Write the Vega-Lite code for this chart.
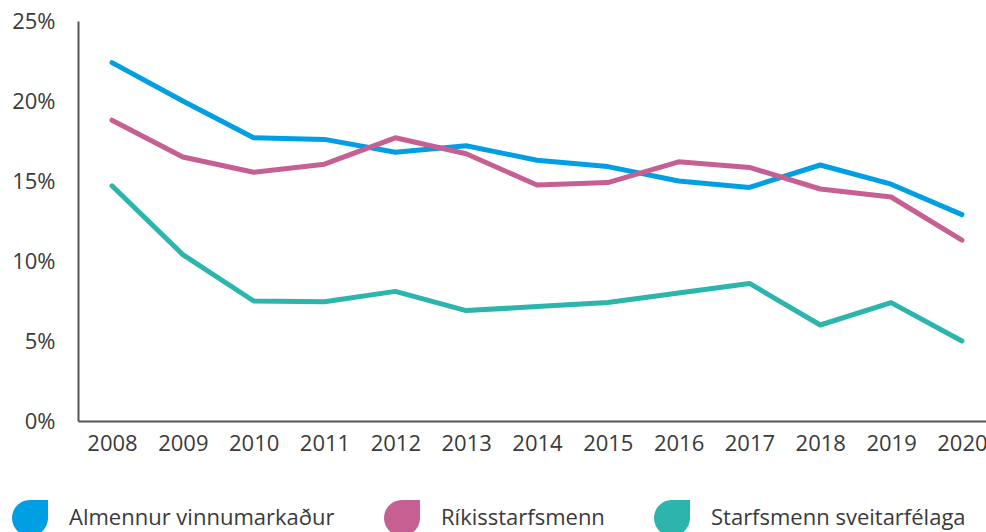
{
  "$schema": "https://vega.github.io/schema/vega-lite/v6.json",
  "autosize": {"type": "none"},
  "width": 908,
  "height": 400,
  "padding": {"left": 78, "top": 21, "right": 0, "bottom": 111},
  "background": "white",
  "config": {
    "view": {"stroke": null},
    "font": "Open Sans",
    "axis": {"labelFont": "Open Sans", "labelColor": "#3a3a3a", "labelFontSize": 22, "domainColor": "#555555", "domainWidth": 2, "ticks": false, "grid": false, "title": null},
    "legend": {"labelFont": "Open Sans", "labelFontSize": 22, "labelColor": "#3a3a3a"}
  },
  "data": {
    "values": [
      {"year": 2008, "group": "Almennur vinnumarkaður", "value": 22.4},
      {"year": 2009, "group": "Almennur vinnumarkaður", "value": 20.0},
      {"year": 2010, "group": "Almennur vinnumarkaður", "value": 17.7},
      {"year": 2011, "group": "Almennur vinnumarkaður", "value": 17.6},
      {"year": 2012, "group": "Almennur vinnumarkaður", "value": 16.8},
      {"year": 2013, "group": "Almennur vinnumarkaður", "value": 17.2},
      {"year": 2014, "group": "Almennur vinnumarkaður", "value": 16.3},
      {"year": 2015, "group": "Almennur vinnumarkaður", "value": 15.9},
      {"year": 2016, "group": "Almennur vinnumarkaður", "value": 15.0},
      {"year": 2017, "group": "Almennur vinnumarkaður", "value": 14.6},
      {"year": 2018, "group": "Almennur vinnumarkaður", "value": 16.0},
      {"year": 2019, "group": "Almennur vinnumarkaður", "value": 14.8},
      {"year": 2020, "group": "Almennur vinnumarkaður", "value": 12.9},
      {"year": 2008, "group": "Ríkisstarfsmenn", "value": 18.8},
      {"year": 2009, "group": "Ríkisstarfsmenn", "value": 16.5},
      {"year": 2010, "group": "Ríkisstarfsmenn", "value": 15.55},
      {"year": 2011, "group": "Ríkisstarfsmenn", "value": 16.05},
      {"year": 2012, "group": "Ríkisstarfsmenn", "value": 17.7},
      {"year": 2013, "group": "Ríkisstarfsmenn", "value": 16.7},
      {"year": 2014, "group": "Ríkisstarfsmenn", "value": 14.75},
      {"year": 2015, "group": "Ríkisstarfsmenn", "value": 14.9},
      {"year": 2016, "group": "Ríkisstarfsmenn", "value": 16.2},
      {"year": 2017, "group": "Ríkisstarfsmenn", "value": 15.85},
      {"year": 2018, "group": "Ríkisstarfsmenn", "value": 14.5},
      {"year": 2019, "group": "Ríkisstarfsmenn", "value": 14.0},
      {"year": 2020, "group": "Ríkisstarfsmenn", "value": 11.3},
      {"year": 2008, "group": "Starfsmenn sveitarfélaga", "value": 14.7},
      {"year": 2009, "group": "Starfsmenn sveitarfélaga", "value": 10.4},
      {"year": 2010, "group": "Starfsmenn sveitarfélaga", "value": 7.5},
      {"year": 2011, "group": "Starfsmenn sveitarfélaga", "value": 7.45},
      {"year": 2012, "group": "Starfsmenn sveitarfélaga", "value": 8.1},
      {"year": 2013, "group": "Starfsmenn sveitarfélaga", "value": 6.9},
      {"year": 2014, "group": "Starfsmenn sveitarfélaga", "value": 7.15},
      {"year": 2015, "group": "Starfsmenn sveitarfélaga", "value": 7.4},
      {"year": 2016, "group": "Starfsmenn sveitarfélaga", "value": 8.0},
      {"year": 2017, "group": "Starfsmenn sveitarfélaga", "value": 8.6},
      {"year": 2018, "group": "Starfsmenn sveitarfélaga", "value": 6.0},
      {"year": 2019, "group": "Starfsmenn sveitarfélaga", "value": 7.4},
      {"year": 2020, "group": "Starfsmenn sveitarfélaga", "value": 5.0}
    ]
  },
  "mark": {"type": "line", "strokeWidth": 5, "strokeCap": "round", "strokeJoin": "round"},
  "encoding": {
    "x": {
      "field": "year", "type": "quantitative",
      "scale": {"domain": [2007.52, 2020.34], "nice": false, "zero": false},
      "axis": {"values": [2008, 2009, 2010, 2011, 2012, 2013, 2014, 2015, 2016, 2017, 2018, 2019, 2020], "format": "d", "labelPadding": 12, "labelFlush": false, "labelOverlap": false}
    },
    "y": {
      "field": "value", "type": "quantitative",
      "scale": {"domain": [0, 25], "nice": false},
      "axis": {"values": [0, 5, 10, 15, 20, 25], "labelExpr": "datum.value + '%'", "labelPadding": 23}
    },
    "color": {
      "field": "group", "type": "nominal",
      "scale": {"domain": ["Almennur vinnumarkaður", "Ríkisstarfsmenn", "Starfsmenn sveitarfélaga"], "range": ["#009fe3", "#c65f92", "#2bb5ac"]},
      "legend": {
        "title": null,
        "orient": "none",
        "direction": "horizontal",
        "legendX": -66,
        "legendY": 479,
        "padding": 0,
        "symbolType": "M0,-1L1,-1L1,0A1,1,0,0,1,0,1A1,1,0,0,1,-1,0A1,1,0,0,1,0,-1Z",
        "symbolSize": 1296,
        "symbolStrokeWidth": 0,
        "labelOffset": 21,
        "columnPadding": 49,
        "labelLimit": 400,
        "encode": {"symbols": {"update": {"fill": {"scale": "color", "field": "value"}, "strokeWidth": {"value": 0}, "opacity": {"value": 1}}}}
      }
    }
  }
}
